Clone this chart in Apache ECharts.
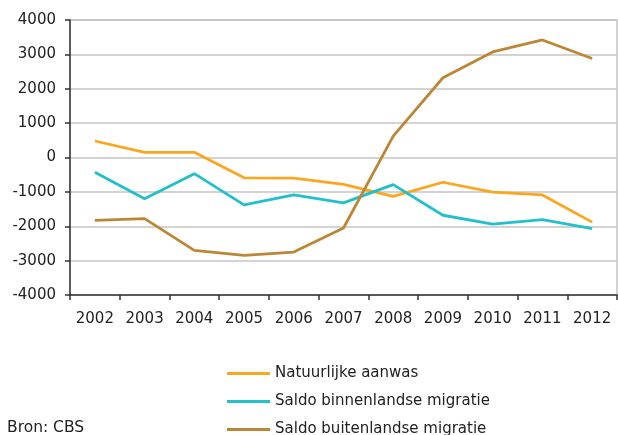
<!DOCTYPE html>
<html>
<head>
<meta charset="utf-8">
<script src="https://cdn.jsdelivr.net/npm/echarts@6/dist/echarts.min.js"></script>
<style>
  html, body { margin: 0; padding: 0; background: #fff; }
  #chart { width: 618px; height: 435px; }
</style>
</head>
<body>
<div id="chart"></div>
<script>
const years = ['2002', '2003', '2004', '2005', '2006', '2007', '2008', '2009', '2010', '2011', '2012']
const natuurlijkeAanwas = [480, 150, 150, -590, -600, -780, -1130, -720, -1010, -1090, -1880]
const binnenlandseMigratie = [-430, -1200, -470, -1380, -1090, -1320, -790, -1680, -1940, -1810, -2070]
const buitenlandseMigratie = [-1830, -1780, -2700, -2850, -2750, -2050, 620, 2320, 3070, 3420, 2880]

const font = 'DejaVu Sans'
const textColor = '#222'

const chart = echarts.init(document.getElementById('chart'), undefined, { renderer: 'canvas' })

function lineSeries(name, data, color) {
  return {
    name,
    type: 'line',
    data,
    symbol: 'none',
    smooth: false,
    lineStyle: { width: 2.8, color },
    itemStyle: { color },
  }
}

chart.setOption({
  backgroundColor: '#fff',
  animation: false,
  grid: { left: 70, right: 1, top: 20, bottom: 140, show: true, borderColor: '#c4c4c4', borderWidth: 1.5 },
  title: {
    text: 'Bron: CBS',
    left: 7,
    top: 420,
    padding: 0,
    textStyle: { fontFamily: font, fontSize: 15.5, fontWeight: 'normal', color: textColor, lineHeight: 16 },
  },
  legend: {
    orient: 'vertical',
    left: 227,
    top: 366,
    height: 90,
    padding: 0,
    itemWidth: 43,
    itemHeight: 3,
    itemGap: 13,
    icon: 'rect',
    textStyle: { fontFamily: font, fontSize: 15, lineHeight: 15, color: textColor },
    data: ['Natuurlijke aanwas', 'Saldo binnenlandse migratie', 'Saldo buitenlandse migratie'],
  },
  xAxis: {
    type: 'category',
    data: years,
    boundaryGap: true,
    axisLine: { onZero: false, lineStyle: { color: '#333', width: 1.5 } },
    axisTick: { show: true, length: 5, lineStyle: { color: '#333', width: 1.5 } },
    axisLabel: { color: textColor, fontFamily: font, fontSize: 15, margin: 17 },
  },
  yAxis: {
    type: 'value',
    min: -4000,
    max: 4000,
    interval: 1000,
    axisLine: { show: true, lineStyle: { color: '#333', width: 1.5 } },
    axisTick: { show: true, length: 5, lineStyle: { color: '#333', width: 1.5 } },
    axisLabel: { color: textColor, fontFamily: font, fontSize: 15, margin: 14, formatter: (v) => String(v) },
    splitLine: { lineStyle: { color: '#c4c4c4', width: 1.5 } },
  },
  series: [
    lineSeries('Natuurlijke aanwas', natuurlijkeAanwas, '#fba61f'),
    lineSeries('Saldo binnenlandse migratie', binnenlandseMigratie, '#22c0c8'),
    lineSeries('Saldo buitenlandse migratie', buitenlandseMigratie, '#bb8736'),
  ],
})
</script>
</body>
</html>
